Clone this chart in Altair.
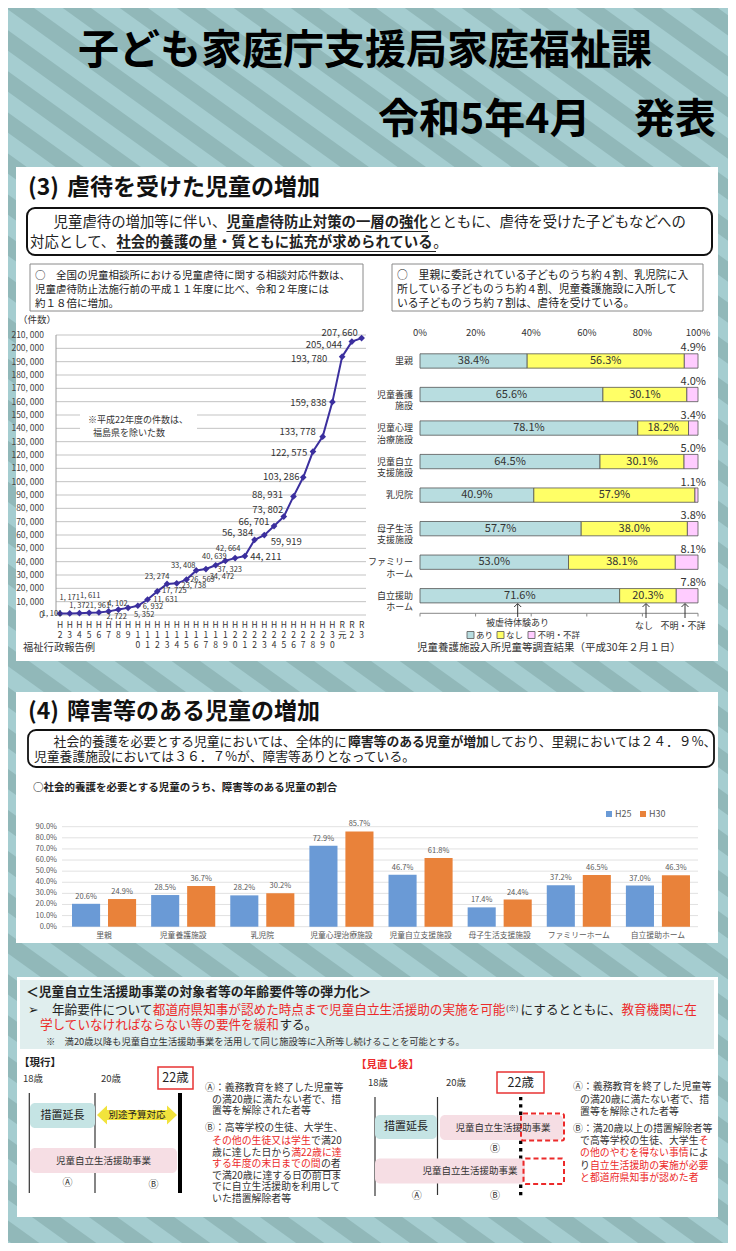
import altair as alt
import pandas as pd
import numpy as np

JP = "Noto Sans CJK JP"
NARROW = "Liberation Sans Narrow, Noto Sans CJK JP"
TXT = "#222222"
RED = "#ec2a2a"
LINE_C = "#3b2f9e"

# ---------------- data ----------------
years = ["H2", "H3", "H4", "H5", "H6", "H7", "H8", "H9", "H10", "H11", "H12", "H13", "H14",
         "H15", "H16", "H17", "H18", "H19", "H20", "H21", "H22", "H23", "H24", "H25", "H26",
         "H27", "H28", "H29", "H30", "R元", "R2", "R3"]
cases = [1101, 1171, 1372, 1611, 1961, 2722, 4102, 5352, 6932, 11631, 17725, 23274, 23738,
         26569, 33408, 34472, 37323, 40639, 42664, 44211, 56384, 59919, 66701, 73802, 88931,
         103286, 122575, 133778, 159838, 193780, 205044, 207660]
label_dx = [-8, 0, 0, 1, 1, 8, -1, 16, 15, 18, 17, -10, 17, 16, -13, 16, 14, -11, -7, 21,
            -17, 22, -20, -16, -26, -22, -24, -25, -24, -33, -28, -22]
label_dy = [0, -15, -7, -17, -6, 6, -6, 7, 1.5, 0.5, 0, -7, 3, 0, -4.5, 7.5, 5, -4, -9, 1,
            -6.5, 6.5, -4.5, -6.6, -1.4, 0, 1, -5, 1.5, 2, 3, -5.5]
line_ticks = list(range(0, 210001, 10000))

facilities = ["里親", "児童養護施設", "児童心理治療施設", "児童自立支援施設", "乳児院",
              "母子生活支援施設", "ファミリーホーム", "自立援助ホーム"]
facility_labels = ["里親", "児童養護\n施設", "児童心理\n治療施設", "児童自立\n支援施設", "乳児院",
                   "母子生活\n支援施設", "ファミリー\nホーム", "自立援助\nホーム"]
abuse_kinds = ["あり", "なし", "不明・不詳"]
abuse_yes = [38.4, 65.6, 78.1, 64.5, 40.9, 57.7, 53.0, 71.6]
abuse_no = [56.3, 30.1, 18.2, 30.1, 57.9, 38.0, 38.1, 20.3]
abuse_unknown = [4.9, 4.0, 3.4, 5.0, 1.1, 3.8, 8.1, 7.8]
pct_ticks = [0, 0.2, 0.4, 0.6, 0.8, 1.0]

disab_cats = ["里親", "児童養護施設", "乳児院", "児童心理治療施設", "児童自立支援施設",
              "母子生活支援施設", "ファミリーホーム", "自立援助ホーム"]
disab_years = ["H25", "H30"]
disab_h25 = [20.6, 28.5, 28.2, 72.9, 46.7, 17.4, 37.2, 37.0]
disab_h30 = [24.9, 36.7, 30.2, 85.7, 61.8, 24.4, 46.5, 46.3]
disab_ticks = list(range(0, 91, 10))

# ---------------- helpers (page coordinate layers) ----------------
DXS = alt.Scale(domain=[8, 728], range=[0, 720], nice=False, zero=False)
DYS = alt.Scale(domain=[8, 1243], range=[0, 1235], nice=False, zero=False)


def PX(f="x"):
    return alt.X(f"{f}:Q", scale=DXS, axis=None)


def PY(f="y"):
    return alt.Y(f"{f}:Q", scale=DYS, axis=None)


def text_layer(rows, align="left", weight="normal", font=JP, baseline="middle"):
    df = pd.DataFrame(rows, columns=["x", "y", "t", "s", "c"])
    return alt.Chart(df).mark_text(align=align, baseline=baseline, fontWeight=weight, font=font).encode(
        x=PX(), y=PY(), text=alt.Text("t:N"),
        size=alt.Size("s:Q", scale=None, legend=None),
        color=alt.Color("c:N", scale=None, legend=None))


def rect_layer(rows, radius=0, dash=None):
    df = pd.DataFrame(rows, columns=["x", "y", "x2", "y2", "f", "st", "sw"])
    props = dict(cornerRadius=radius)
    if dash:
        props["strokeDash"] = dash
    return alt.Chart(df).mark_rect(**props).encode(
        x=PX(), x2=alt.X2("x2:Q"), y=PY(), y2=alt.Y2("y2:Q"),
        fill=alt.Fill("f:N", scale=None, legend=None),
        stroke=alt.Stroke("st:N", scale=None, legend=None),
        strokeWidth=alt.StrokeWidth("sw:Q", scale=None, legend=None))


def rule_layer(rows, color, width, dash=None, clip=False):
    df = pd.DataFrame(rows, columns=["x", "y", "x2", "y2"])
    props = dict(color=color, strokeWidth=width, clip=clip)
    if dash:
        props["strokeDash"] = dash
    return alt.Chart(df).mark_rule(**props).encode(
        x=PX(), y=PY(), x2=alt.X2("x2:Q"), y2=alt.Y2("y2:Q"))


def point_layer(rows, shape, size, color, filled=True, sw=1):
    df = pd.DataFrame(rows, columns=["x", "y"])
    return alt.Chart(df).mark_point(shape=shape, size=size, filled=filled, color=color,
                                    opacity=1, strokeWidth=sw).encode(x=PX(), y=PY())


layers = []

# ---------------- background ----------------
slope = 0.72
stripes = [(x0, -20, x0 + 1280 / slope, 1260) for x0 in np.arange(-1900, 780, 57)]
layers.append(rule_layer(stripes, "#91b8b9", 16.5, clip=True))

# white panels
layers.append(rect_layer([
    (16, 167, 718, 661, "white", "transparent", 0),
    (16, 692, 718, 943, "white", "transparent", 0),
    (17, 977, 718, 1217, "white", "transparent", 0),
]))
layers.append(rect_layer([(20, 980, 714, 1049, "#e0eeee", "transparent", 0)]))

# framed boxes
layers.append(rect_layer([
    (27, 208, 712, 255, "white", "#111111", 2),
    (28, 730, 714, 767, "white", "#111111", 1.8),
], radius=8))
layers.append(rect_layer([
    (30, 264, 363, 311, "white", "#8a8a8a", 1),
    (392, 264, 703, 311, "white", "#8a8a8a", 1),
]))

# ---------------- titles ----------------
layers.append(text_layer([
    (365, 52, "子ども家庭庁支援局家庭福祉課", 41, "#000000"),
], align="center", weight="bold"))
layers.append(text_layer([
    (378, 121, "令和5年4月", 41, "#000000"),
    (28, 188, "(3)", 23, "#111111"),
    (67, 188, "虐待を受けた児童の増加", 23, "#111111"),
    (28, 712, "(4)", 23, "#111111"),
    (67, 712, "障害等のある児童の増加", 23, "#111111"),
    (226.4, 223, "児童虐待防止対策の一層の強化", 14.4, TXT),
    (116.4, 243, "社会的養護の量・質ともに拡充が求められている", 14.4, TXT),
    (348, 742, "障害等のある児童が増加", 12.8, TXT),
    (33, 788, "○社会的養護を必要とする児童のうち、障害等のある児童の割合", 10.5, TXT),
    (26, 991.5, "＜児童自立生活援助事業の対象者等の年齢要件等の弾力化＞", 12.8, TXT),
    (19, 1063, "【現行】", 10.5, TXT),
    (356, 1065, "【見直し後】", 10.5, RED),
], weight="bold"))
layers.append(text_layer([(716, 121, "発表", 41, "#000000")], align="right", weight="bold"))

# ---------------- body texts ----------------
layers.append(text_layer([
    (53.6, 223, "児童虐待の増加等に伴い、", 14.4, TXT),
    (428, 223, "とともに、虐待を受けた子どもなどへの", 14.4, TXT),
    (30, 243, "対応として、", 14.4, TXT),
    (433.2, 243, "。", 14.4, TXT),
    (35, 276, "○　全国の児童相談所における児童虐待に関する相談対応件数は、", 10.5, TXT),
    (35, 290, "　児童虐待防止法施行前の平成１１年度に比べ、令和２年度には", 10.5, TXT),
    (35, 304, "　約１８倍に増加。", 10.5, TXT),
    (397, 276, "○　里親に委託されている子どものうち約４割、乳児院に入", 10.8, TXT),
    (397, 290, "　所している子どものうち約４割、児童養護施設に入所して", 10.8, TXT),
    (397, 304, "　いる子どものうち約７割は、虐待を受けている。", 10.8, TXT),
    (53.6, 742, "社会的養護を必要とする児童においては、全体的に", 12.8, TXT),
    (488.8, 742, "しており、里親においては２４．９%、", 12.8, TXT),
    (34, 757, "児童養護施設においては３６．７%が、障害等ありとなっている。", 12.8, TXT),
]))
layers.append(rule_layer([(226.4, 231.5, 428, 231.5), (116.4, 251.5, 436, 251.5)], TXT, 1.2))

# panel 3 header lines
layers.append(text_layer([
    (28, 1010, "➢", 12.6, TXT),
    (52, 1010, "年齢要件について", 12.6, TXT),
    (152.8, 1010, "都道府県知事が認めた時点まで児童自立生活援助の実施を可能", 12.6, RED),
    (506, 1009, "(※)", 7.5, TXT),
    (520.6, 1010, "にするとともに、", 12.6, TXT),
    (621.4, 1010, "教育機関に在", 12.6, RED),
    (40, 1024.5, "学していなければならない等の要件を緩和", 12.6, RED),
    (279.4, 1024.5, "する。", 12.6, TXT),
    (46, 1041.5, "※　満20歳以降も児童自立生活援助事業を活用して同じ施設等に入所等し続けることを可能とする。", 9.3, "#333333"),
], font="Noto Sans CJK JP, DejaVu Sans"))

# ---------------- line chart ----------------
XL = alt.Scale(type="point", domain=years, range=[52, 353.6], padding=0)
YL = alt.Scale(domain=[0, 210000], range=[607, 327], nice=False, zero=False)

df_line = pd.DataFrame({"year": years, "cases": cases, "idx": list(range(len(years))),
                        "dx": label_dx, "dy": label_dy})
df_line["label"] = [f"{v:,}".replace(",", ", ") for v in cases]
df_lt = pd.DataFrame({"v": line_ticks, "lab": [f"{v:,}".replace(",", ", ") for v in line_ticks]})

layers.append(alt.Chart(df_lt).mark_rule(color="#b4b4b4", strokeWidth=0.8).encode(
    x=alt.value(48), x2=alt.value(358), y=alt.Y("v:Q", scale=YL, axis=None)))
layers.append(alt.Chart(df_lt).mark_text(align="right", baseline="middle", font=NARROW,
                                          fontSize=8.5, color="#444444").encode(
    x=alt.value(36), y=alt.Y("v:Q", scale=YL, axis=None), text="lab:N"))
layers.append(rule_layer([(56, 335, 56, 615)], "#9a9a9a", 1))
layers.append(rect_layer([(80, 412, 197, 441, "white", "transparent", 0)]))
layers.append(text_layer([
    (88, 420, "※平成22年度の件数は、", 9, "#333333"),
    (93, 433, "福島県を除いた数", 9, "#333333"),
    (18, 320, "（件数）", 9.5, "#333333"),
    (23, 648, "福祉行政報告例", 10.3, "#333333"),
]))

xt_rows = []
for yv in years:
    for j, ch in enumerate(list(yv)):
        xt_rows.append({"year": yv, "yy": 625 + 10 * j, "ch": ch})
layers.append(alt.Chart(pd.DataFrame(xt_rows)).mark_text(font=JP, fontSize=8.5, color="#333333",
                                                          baseline="middle").encode(
    x=alt.X("year:N", scale=XL, axis=None), y=alt.Y("yy:Q", scale=DYS, axis=None), text="ch:N"))

layers.append(alt.Chart(df_line).mark_line(color=LINE_C, strokeWidth=2).encode(
    x=alt.X("year:N", scale=XL, axis=None), y=alt.Y("cases:Q", scale=YL, axis=None),
    order="idx:Q"))
layers.append(alt.Chart(df_line).mark_point(shape="diamond", filled=True, size=45, color=LINE_C,
                                            opacity=1).encode(
    x=alt.X("year:N", scale=XL, axis=None), y=alt.Y("cases:Q", scale=YL, axis=None)))
layers.append(alt.Chart(df_line).transform_filter("datum.idx < 19").mark_text(
    font=NARROW, fontSize=7.5, color="#333333", dx=alt.expr("datum.dx"), dy=alt.expr("datum.dy")).encode(
    x=alt.X("year:N", scale=XL, axis=None), y=alt.Y("cases:Q", scale=YL, axis=None), text="label:N"))
layers.append(alt.Chart(df_line).transform_filter("datum.idx >= 19").mark_text(
    font=NARROW, fontSize=9.5, color="#333333", dx=alt.expr("datum.dx"), dy=alt.expr("datum.dy")).encode(
    x=alt.X("year:N", scale=XL, axis=None), y=alt.Y("cases:Q", scale=YL, axis=None), text="label:N"))

# ---------------- stacked (abuse experience) ----------------
XS = alt.Scale(domain=[0, 1], range=[412, 690], nice=False, zero=False)
YS = alt.Scale(type="band", domain=facilities, range=[336.2, 604.5], paddingInner=0.573,
               paddingOuter=0.2865)
ab_rows = []
for i, f in enumerate(facilities):
    for k, vals in enumerate([abuse_yes, abuse_no, abuse_unknown]):
        ab_rows.append({"facility": f, "kind": abuse_kinds[k], "order": k, "pct": vals[i]})
df_ab = pd.DataFrame(ab_rows)
ab_base = alt.Chart(df_ab).transform_stack(
    stack="pct", groupby=["facility"], as_=["v0", "v1"], offset="normalize",
    sort=[alt.SortField(field="order", order="ascending")]
).transform_calculate(mid="(datum.v0 + datum.v1) / 2", lab="format(datum.pct, '.1f') + '%'")

layers.append(ab_base.mark_bar(stroke="#555555", strokeWidth=0.8).encode(
    x=alt.X("v0:Q", scale=XS, axis=None), x2=alt.X2("v1:Q"),
    y=alt.Y("facility:N", scale=YS, axis=None),
    color=alt.Color("kind:N", scale=alt.Scale(domain=abuse_kinds,
                                              range=["#b8dde0", "#ffff66", "#ffccff"]), legend=None)))
layers.append(ab_base.transform_filter("datum.order < 2").mark_text(
    font=JP, fontSize=11, color="#333333").encode(
    x=alt.X("mid:Q", scale=XS, axis=None), y=alt.Y("facility:N", scale=YS, axis=None), text="lab:N"))
layers.append(ab_base.transform_filter("datum.order == 2").mark_text(
    font=JP, fontSize=11, color="#333333", align="right", dx=8, dy=-12.5).encode(
    x=alt.X("v1:Q", scale=XS, axis=None), y=alt.Y("facility:N", scale=YS, axis=None), text="lab:N"))

df_fac = pd.DataFrame({"facility": facilities, "lab": facility_labels})
layers.append(alt.Chart(df_fac).mark_text(font=JP, fontSize=9, color="#333333", align="right",
                                          baseline="middle", lineBreak="\n", lineHeight=11.5).encode(
    x=alt.value(405), y=alt.Y("facility:N", scale=YS, axis=None), text="lab:N"))

df_pct = pd.DataFrame({"v": pct_ticks, "lab": [f"{int(round(v * 100))}%" for v in pct_ticks]})
layers.append(alt.Chart(df_pct).mark_text(font=JP, fontSize=9.5, color="#333333").encode(
    x=alt.X("v:Q", scale=XS, axis=None), y=alt.value(325), text="lab:N"))
layers.append(alt.Chart(pd.DataFrame({"a": [0.0], "b": [1.0]})).mark_rule(color="#888888").encode(
    x=alt.X("a:Q", scale=XS, axis=None), x2=alt.X2("b:Q"), y=alt.value(605.3)))
layers.append(alt.Chart(df_pct).mark_rule(color="#888888").encode(
    x=alt.X("v:Q", scale=XS, axis=None), y=alt.value(605.3), y2=alt.value(608.5)))

# arrows and legend
layers.append(rule_layer([(517.7, 604, 517.7, 617), (646, 604, 646, 618), (685, 604, 685, 618)],
                         "#333333", 1))
layers.append(point_layer([(517.7, 603.5), (646, 603.5), (685, 603.5)], "M -1 1 L 0 0 L 1 1", 49,
                          "#333333", filled=False, sw=1))
layers.append(text_layer([
    (517.5, 623, "被虐待体験あり", 9, "#333333"),
    (644, 625.5, "なし", 9, "#333333"),
    (683, 625.5, "不明・不詳", 9, "#333333"),
], align="center"))
layers.append(rect_layer([
    (467, 631.5, 474, 638.5, "#b8dde0", "#555555", 0.8),
    (497, 631.5, 504, 638.5, "#ffff66", "#555555", 0.8),
    (528, 631.5, 535, 638.5, "#ffccff", "#555555", 0.8),
]))
layers.append(text_layer([
    (476, 635, "あり", 8.5, "#333333"),
    (506, 635, "なし", 8.5, "#333333"),
    (537.5, 635, "不明・不詳", 8.5, "#333333"),
    (417, 648, "児童養護施設入所児童等調査結果（平成30年２月１日）", 10.5, "#333333"),
]))

# ---------------- grouped bars (disability) ----------------
XG = alt.Scale(type="band", domain=disab_cats, range=[56.5, 689.5], paddingInner=0.19,
               paddingOuter=0.095)
XO = alt.Scale(type="band", domain=disab_years, paddingInner=0.22, paddingOuter=0)
YG = alt.Scale(domain=[0, 90], range=[918.7, 818.7], nice=False, zero=False)

dis_rows = []
for i, c in enumerate(disab_cats):
    dis_rows.append({"cat": c, "yr": "H25", "v": disab_h25[i]})
    dis_rows.append({"cat": c, "yr": "H30", "v": disab_h30[i]})
df_dis = pd.DataFrame(dis_rows)
df_dis["lab"] = [f"{v:.1f}%" for v in df_dis["v"]]
df_dt = pd.DataFrame({"v": disab_ticks, "lab": [f"{v:.1f}%" for v in disab_ticks]})

layers.append(alt.Chart(df_dt).mark_rule(color="#d9d9d9", strokeWidth=0.8).encode(
    x=alt.value(54), x2=alt.value(690), y=alt.Y("v:Q", scale=YG, axis=None)))
layers.append(alt.Chart(df_dt).mark_text(font=JP, fontSize=7.5, color="#595959", align="right").encode(
    x=alt.value(49), y=alt.Y("v:Q", scale=YG, axis=None), text="lab:N"))
layers.append(alt.Chart(df_dis).mark_bar().encode(
    x=alt.X("cat:N", scale=XG, axis=None), xOffset=alt.XOffset("yr:N", scale=XO),
    y=alt.Y("v:Q", scale=YG, axis=None),
    color=alt.Color("yr:N", scale=alt.Scale(domain=disab_years, range=["#6a9ad6", "#e9823a"]),
                    legend=None)))
layers.append(alt.Chart(df_dis).mark_text(font=JP, fontSize=7.5, color="#595959", dy=-7).encode(
    x=alt.X("cat:N", scale=XG, axis=None), xOffset=alt.XOffset("yr:N", scale=XO),
    y=alt.Y("v:Q", scale=YG, axis=None), text="lab:N"))
layers.append(alt.Chart(pd.DataFrame({"cat": disab_cats})).mark_text(
    font=JP, fontSize=7.8, color="#595959").encode(
    x=alt.X("cat:N", scale=XG, axis=None), y=alt.value(928), text="cat:N"))
layers.append(rect_layer([
    (606, 811, 612, 817, "#6a9ad6", "transparent", 0),
    (640, 811, 646, 817, "#e9823a", "transparent", 0),
]))
layers.append(text_layer([
    (615, 814, "H25", 9, "#595959"),
    (649, 814, "H30", 9, "#595959"),
]))

# ---------------- panel 3 diagrams ----------------
layers.append(rule_layer([(29.3, 1093, 29.3, 1193), (95, 1093, 95, 1193),
                          (375, 1097, 375, 1196), (437.5, 1097, 437.5, 1195)], "#333333", 1.2))
layers.append(rule_layer([(180, 1093, 180, 1193)], "#000000", 4))
layers.append(rule_layer([(520.7, 1097, 520.7, 1196)], "#000000", 3.3, dash=[3.3, 4]))
layers.append(rect_layer([
    (158, 1067, 193, 1089, "white", "#e83333", 1.5),
    (497, 1072, 544, 1093, "white", "#e83333", 1.5),
]))
layers.append(rect_layer([
    (30, 1103, 95, 1128, "#c5e4e4", "transparent", 0),
    (375, 1115, 437, 1139, "#c5e4e4", "transparent", 0),
    (30, 1148, 177, 1173, "#f6dee4", "transparent", 0),
    (440, 1115, 563, 1140, "#f6dee4", "transparent", 0),
    (375, 1158.5, 525, 1183.5, "#f6dee4", "transparent", 0),
], radius=5))
layers.append(rect_layer([
    (521, 1113.5, 564, 1140.5, "transparent", RED, 2),
    (523.5, 1158.5, 564, 1184, "transparent", RED, 2),
], radius=2, dash=[5, 3]))
ARROW = ("M -1 0 L -0.75 -0.24 L -0.75 -0.125 L 0.75 -0.125 L 0.75 -0.24 L 1 0 "
         "L 0.75 0.24 L 0.75 0.125 L -0.75 0.125 L -0.75 0.24 Z")
layers.append(point_layer([(137, 1115)], ARROW, 6400, "#f2e33c"))

layers.append(text_layer([
    (175.5, 1078, "22歳", 12.5, TXT),
    (520.7, 1082.5, "22歳", 12.5, TXT),
    (62.5, 1116, "措置延長", 11, TXT),
    (406, 1127, "措置延長", 11, TXT),
    (137, 1115, "別途予算対応", 9.5, TXT),
    (103.5, 1161, "児童自立生活援助事業", 9.5, "#333333"),
    (503, 1127.5, "児童自立生活援助事業", 9.5, "#333333"),
    (470, 1171, "児童自立生活援助事業", 9.5, "#333333"),
    (67.5, 1183, "Ⓐ", 10, "#333333"),
    (153.5, 1184.5, "Ⓑ", 10, "#333333"),
    (495, 1149, "Ⓑ", 10, "#333333"),
    (416.7, 1195.5, "Ⓐ", 10, "#333333"),
    (495, 1195.5, "Ⓑ", 10, "#333333"),
], align="center"))

FS = 9.9
layers.append(text_layer([
    (23, 1079, "18歳", 9.5, "#333333"),
    (101, 1079, "20歳", 9.5, "#333333"),
    (368, 1083, "18歳", 9.5, "#333333"),
    (446, 1083, "20歳", 9.5, "#333333"),
    (205, 1088, "Ⓐ：義務教育を終了した児童等", FS, "#333333"),
    (212, 1099.5, "の満20歳に満たない者で、措", FS, "#333333"),
    (212, 1111, "置等を解除された者等", FS, "#333333"),
    (205, 1128, "Ⓑ：高等学校の生徒、大学生、", FS, "#333333"),
    (212, 1141, "その他の生徒又は学生", FS, RED),
    (212 + 10 * FS, 1141, "で満20", FS, "#333333"),
    (212, 1152.7, "歳に達した日から", FS, "#333333"),
    (212 + 8 * FS, 1152.7, "満22歳に達", FS, RED),
    (212, 1164, "する年度の末日までの間", FS, RED),
    (212 + 11 * FS, 1164, "の者", FS, "#333333"),
    (212, 1175.5, "で満20歳に達する日の前日ま", FS, "#333333"),
    (212, 1187, "でに自立生活援助を利用して", FS, "#333333"),
    (212, 1198.5, "いた措置解除者等", FS, "#333333"),
    (573, 1087, "Ⓐ：義務教育を終了した児童等", FS, "#333333"),
    (580, 1099.5, "の満20歳に満たない者で、措", FS, "#333333"),
    (580, 1112, "置等を解除された者等", FS, "#333333"),
    (573, 1129, "Ⓑ：満20歳以上の措置解除者等", FS, "#333333"),
    (580, 1141, "で高等学校の生徒、大学生", FS, "#333333"),
    (580 + 12 * FS, 1141, "そ", FS, RED),
    (580, 1153, "の他のやむを得ない事情", FS, RED),
    (580 + 11 * FS, 1153, "によ", FS, "#333333"),
    (580, 1165.5, "り", FS, "#333333"),
    (580 + FS, 1165.5, "自立生活援助の実施が必要", FS, RED),
    (580, 1177.5, "と都道府県知事が認めた者", FS, RED),
]))
layers.append(rule_layer([(212 + 9 * FS, 1170.5, 212 + 13 * FS, 1170.5)], "#333333", 1))

# ---------------- compose ----------------
chart = alt.layer(*layers).resolve_scale(
    x="independent", y="independent", color="independent", size="independent",
    fill="independent", stroke="independent", strokeWidth="independent", xOffset="independent"
).properties(
    width=720, height=1235, autosize=alt.AutoSizeParams(type="none"), padding=0,
    background="#a5cdd0"
).configure_view(stroke=None)

chart.save("out.html", embed_options={"renderer": "svg", "actions": False})
